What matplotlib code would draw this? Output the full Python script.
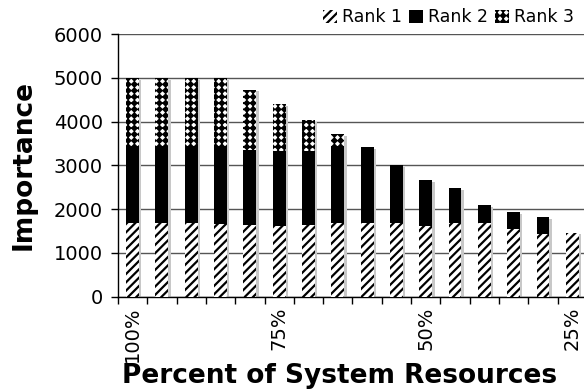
"""
Stacked importance per rank as system resources are reduced (100% -> 25%).
"""

import numpy as np
import matplotlib
matplotlib.use("Agg")
import matplotlib.pyplot as plt
import matplotlib.hatch as mhatch
from matplotlib.patches import Patch

# resource levels, 100% down to 25% in 5% steps
LEVELS = [100, 95, 90, 85, 80, 75, 70, 65, 60, 55, 50, 45, 40, 35, 30, 25]
LABELED = {100: "100%", 75: "75%", 50: "50%", 25: "25%"}

RANK1 = [1680, 1680, 1680, 1660, 1650, 1620, 1630, 1680,
         1680, 1690, 1620, 1690, 1690, 1550, 1435, 1465]
RANK2 = [1750, 1750, 1730, 1750, 1707, 1714, 1704, 1730,
         1730, 1324, 1050, 797, 408, 388, 389, 0]
RANK3 = [1570, 1570, 1590, 1590, 1373, 1069, 709, 306,
         0, 0, 0, 0, 0, 0, 0, 0]


class DiamondGrid(mhatch.HatchPatternBase):
    """Filled diamonds on a square grid, used for the '*' hatch."""

    def __init__(self, hatch, density):
        self.num_rows = 16 if "*" in hatch else 0
        self.num_vertices = 5 * self.num_rows ** 2

    def set_vertices_and_codes(self, vertices, codes):
        step = 1.0 / self.num_rows
        r = step * 0.34
        diamond = np.array([[0, r], [-r, 0], [0, -r], [r, 0], [0, r]])
        k = 0
        for i in range(self.num_rows):
            for j in range(self.num_rows):
                cx, cy = (i + 0.5) * step, (j + 0.5) * step
                vertices[k:k + 5] = diamond + [cx, cy]
                codes[k] = mhatch.Path.MOVETO
                codes[k + 1:k + 4] = mhatch.Path.LINETO
                codes[k + 4] = mhatch.Path.CLOSEPOLY
                k += 5


mhatch._hatch_types = [t for t in mhatch._hatch_types
                       if t is not mhatch.Stars] + [DiamondGrid]

plt.rcParams["font.family"] = ["DejaVu Sans"]
plt.rcParams["hatch.linewidth"] = 1.6

fig = plt.figure(figsize=(5.84, 3.92), dpi=100)
ax = fig.add_axes([0.202, 0.243, 0.803, 0.670])

x = np.arange(len(LEVELS)) + 0.5
r1 = np.array(RANK1)
r2 = np.array(RANK2)
r3 = np.array(RANK3)
total = r1 + r2 + r3
width = 0.44

# drop shadow behind each stack
ax.bar(x + 0.08, total - 40, width, color="#c8c8c8", zorder=2)

ax.bar(x, r1, width, color="white", edgecolor="black", linewidth=0,
       hatch="////", zorder=3)
ax.bar(x, r2, width, bottom=r1, color="black", linewidth=0, zorder=3)
ax.bar(x, r3, width, bottom=r1 + r2, color="white", edgecolor="black",
       linewidth=0, hatch="*", zorder=3)

ax.set_xlim(0, len(LEVELS))
ax.set_ylim(0, 6000)
ax.set_yticks(range(0, 6001, 1000))
ax.yaxis.grid(True, color="#555555", linewidth=1.0, zorder=1)
ax.set_axisbelow(True)

ax.set_xticks(np.arange(len(LEVELS) + 1))
ax.set_xticklabels([])
ax.set_xticks(x, [LABELED.get(v, "") for v in LEVELS], minor=True)
ax.tick_params(axis="x", which="major", length=5, width=1, direction="out")
ax.tick_params(axis="x", which="minor", length=0, labelsize=14,
               labelrotation=90, pad=7)
ax.tick_params(axis="y", length=5, width=1, labelsize=14, pad=6)

for side in ("top", "right"):
    ax.spines[side].set_visible(False)
for side in ("left", "bottom"):
    ax.spines[side].set_linewidth(1.0)

fig.text(0.041, 0.579, "Importance", rotation=90, ha="center", va="center",
         fontsize=19, fontweight="bold")
fig.text(0.582, 0.041, "Percent of System Resources", ha="center",
         va="center", fontsize=19, fontweight="bold")

handles = [
    Patch(facecolor="white", edgecolor="black", linewidth=0, hatch="////"),
    Patch(facecolor="black", linewidth=0),
    Patch(facecolor="white", edgecolor="black", linewidth=0, hatch="*"),
]
fig.legend(handles, ["Rank 1", "Rank 2", "Rank 3"], loc="upper right",
           bbox_to_anchor=(1.0, 1.005), ncol=3, frameon=False, fontsize=12.5,
           handlelength=0.8, handleheight=0.8, handletextpad=0.25,
           columnspacing=0.45, borderaxespad=0.2)

fig.savefig("out.png", dpi=100)
